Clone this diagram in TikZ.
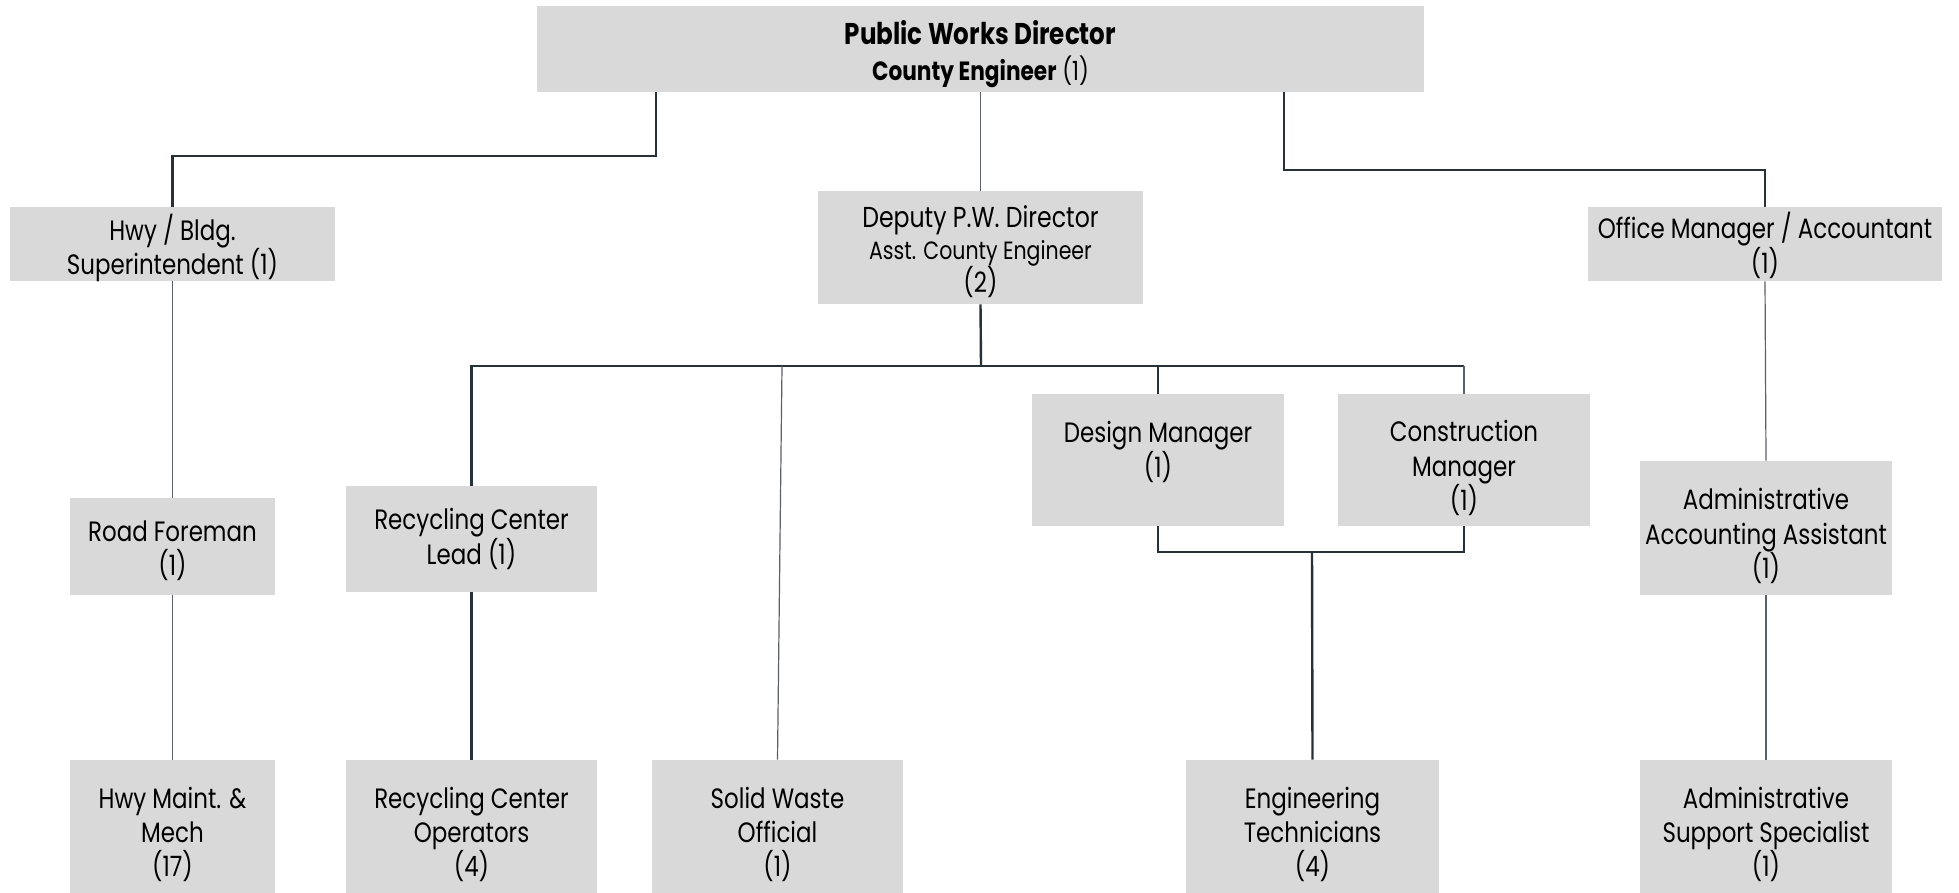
\documentclass[tikz,border=0pt]{standalone}
\usepackage{fontspec}
\setmainfont{Poppins}[FakeStretch=0.82]
\definecolor{boxgray}{HTML}{D9D9D9}
\definecolor{darkline}{HTML}{263238}
\definecolor{thinline}{HTML}{5A6066}
\tikzset{
  orgbox/.style={fill=boxgray, draw=none, inner sep=0pt},
  btext/.style={align=center, inner sep=0pt, text=black,
    font=\fontsize{14}{17.2}\selectfont},
  thickline/.style={draw=darkline, line width=1.2pt},
  thinline/.style={draw=thinline, line width=0.6pt},
}
\begin{document}
\begin{tikzpicture}[x=0.5pt,y=-0.5pt]
\useasboundingbox[fill=white] (0,0) rectangle (1959,893);
% boxes
\node[orgbox, minimum width=443.5pt, minimum height=43pt,
  label={[btext, yshift=-2.5pt]center:{{\fontsize{15}{18}\selectfont\bfseries Public Works Director}\\[1pt]{\fontsize{13.2}{15}\selectfont\textbf{County Engineer} (1)}}}] (top) at (980.5,49) {};
\node[orgbox, minimum width=162.5pt, minimum height=37pt,
  label={[btext, yshift=-2pt]center:{Hwy / Bldg.\\Superintendent (1)}}] (hwy) at (172.5,244) {};
\node[orgbox, minimum width=162.5pt, minimum height=56.5pt,
  label={[btext, yshift=-2pt]center:{{\fontsize{14.4}{17}\selectfont Deputy P.W. Director}\\[-1pt]{\fontsize{12.5}{15}\selectfont Asst. County Engineer}\\[-1pt](2)}}] (dep) at (980.5,247.5) {};
\node[orgbox, minimum width=177pt, minimum height=37pt,
  label={[btext, yshift=-0.8pt]center:{Office Manager / Accountant\\(1)}}] (off) at (1765,244) {};
\node[orgbox, minimum width=102.5pt, minimum height=48.5pt,
  label={[btext, yshift=-2pt]center:{Road Foreman\\(1)}}] (road) at (172.5,546.5) {};
\node[orgbox, minimum width=102.5pt, minimum height=66.5pt,
  label={[btext, yshift=-4pt]center:{Hwy Maint. \&\\Mech\\(17)}}] (maint) at (172.5,826.5) {};
\node[orgbox, minimum width=125.5pt, minimum height=53pt,
  label={[btext]center:{Recycling Center\\Lead (1)}}] (rlead) at (471.5,539) {};
\node[orgbox, minimum width=125.5pt, minimum height=66.5pt,
  label={[btext, yshift=-4pt]center:{Recycling Center\\Operators\\(4)}}] (rops) at (471.5,826.5) {};
\node[orgbox, minimum width=125.5pt, minimum height=66.5pt,
  label={[btext, yshift=-4pt]center:{Solid Waste\\Official\\(1)}}] (sw) at (777.5,826.5) {};
\node[orgbox, minimum width=126pt, minimum height=66pt,
  label={[btext, yshift=4pt]center:{Design Manager\\(1)}}] (des) at (1158,460) {};
\node[orgbox, minimum width=126pt, minimum height=66pt,
  label={[btext, yshift=-4pt]center:{Construction\\Manager\\(1)}}] (con) at (1464,460) {};
\node[orgbox, minimum width=126.5pt, minimum height=66.5pt,
  label={[btext, yshift=-4pt]center:{Engineering\\Technicians\\(4)}}] (eng) at (1312.5,826.5) {};
\node[orgbox, minimum width=126pt, minimum height=67pt,
  label={[btext, yshift=-4pt]center:{Administrative\\Accounting Assistant\\(1)}}] (acc) at (1766,528) {};
\node[orgbox, minimum width=126pt, minimum height=66.5pt,
  label={[btext, yshift=-4pt]center:{Administrative\\Support Specialist\\(1)}}] (sup) at (1766,826.5) {};
% junction coordinates
\coordinate (j1) at (656,156);
\coordinate (j2) at (1284,170);
\coordinate (bus) at (981,366);
\coordinate (swtop) at (782,366);
\coordinate (b2) at (1312,552);
% connectors
\draw[thickline] (top.south -| j1) -- (j1) -| (hwy.north);
\draw[thinline] (top.south -| dep.north) -- (dep.north);
\draw[thickline] (top.south -| j2) -- (j2) -| (off.north);
\draw[thickline] (dep.south) -- (bus);
\draw[thickline] (rlead.north) -- (rlead.north |- bus) -- (con.north |- bus);
\draw[thinline] (swtop) -- (sw.north);
\draw[thickline] (des.north |- bus) -- (des.north);
\draw[thinline] (con.north |- bus) -- (con.north);
\draw[thickline] (des.south) -- (des.south |- b2) -- (con.south |- b2) -- (con.south);
\draw[thickline] (b2) -- (eng.north);
\draw[thinline] (hwy.south) -- (road.north);
\draw[thinline] (road.south) -- (maint.north);
\draw[thickline] (rlead.south) -- (rops.north);
\draw[thinline] (off.south) -- (acc.north);
\draw[thinline] (acc.south) -- (sup.north);
\end{tikzpicture}
\end{document}
